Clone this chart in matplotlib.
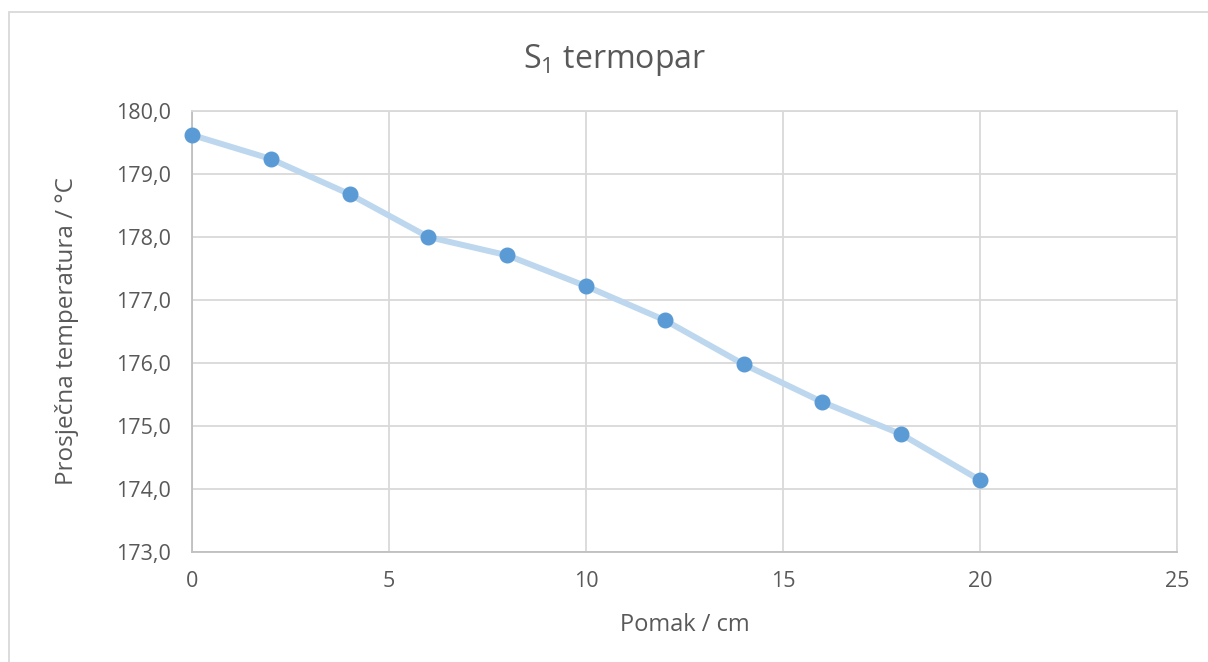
#!/usr/bin/env python3
"""S1 termopar: average temperature vs. displacement."""

import matplotlib
matplotlib.use('Agg')
import matplotlib.pyplot as plt
from matplotlib.ticker import FuncFormatter, MultipleLocator
from matplotlib.patches import Rectangle

# Data
pomak_cm = [0, 2, 4, 6, 8, 10, 12, 14, 16, 18, 20]
temperatura_c = [179.62, 179.24, 178.68, 178.00, 177.71, 177.22,
                 176.68, 175.98, 175.38, 174.87, 174.14]

title_text = 'S$_\\mathregular{1}$ termopar'
x_label = 'Pomak / cm'
y_label = 'Prosječna temperatura / °C'

# Styling
text_color = '#595959'
grid_color = '#D9D9D9'
marker_color = '#5B9BD5'
line_color = '#BDD7EE'

plt.rcParams['font.family'] = ['Open Sans', 'DejaVu Sans']
plt.rcParams['mathtext.fontset'] = 'custom'
plt.rcParams['mathtext.rm'] = 'Open Sans'

fig = plt.figure(figsize=(12.08, 6.62), dpi=100)
fig.patch.set_facecolor('white')
ax = fig.add_axes([0.1589, 0.1662, 0.8154, 0.6661])

# Chart border (Excel chart area)
fig.add_artist(Rectangle((9 / 1208, -0.1), 1.2, 1 - 12 / 662 + 0.1,
                         transform=fig.transFigure, fill=False,
                         edgecolor='#D9D9D9', linewidth=1.3))

ax.plot(pomak_cm, temperatura_c, color=line_color, linewidth=4.3,
        solid_capstyle='round', zorder=3)
ax.plot(pomak_cm, temperatura_c, linestyle='none', marker='o',
        markersize=10.5, color=marker_color, markeredgecolor=marker_color,
        zorder=4, clip_on=False)

ax.set_xlim(0, 25)
ax.set_ylim(173, 180)
ax.xaxis.set_major_locator(MultipleLocator(5))
ax.yaxis.set_major_locator(MultipleLocator(1))
ax.yaxis.set_major_formatter(FuncFormatter(lambda v, p: f'{v:.1f}'.replace('.', ',')))

ax.grid(True, color=grid_color, linewidth=1.3, zorder=0)
ax.set_axisbelow(True)
for side, spine in ax.spines.items():
    spine.set_color(grid_color if side in ('top', 'right') else '#BFBFBF')
    spine.set_linewidth(1.3)

ax.tick_params(axis='both', length=0, labelsize=15.5, labelcolor=text_color)
ax.tick_params(axis='y', pad=15)
ax.tick_params(axis='x', pad=14)

ax.set_xlabel(x_label, fontsize=17, color=text_color, labelpad=15)
ax.set_ylabel(y_label, fontsize=17.5, color=text_color, labelpad=27)
fig.text(615 / 1208, 1 - 60 / 662, title_text, fontsize=23, color=text_color,
         ha='center', va='center')

fig.savefig('out.png', dpi=100, facecolor='white')
